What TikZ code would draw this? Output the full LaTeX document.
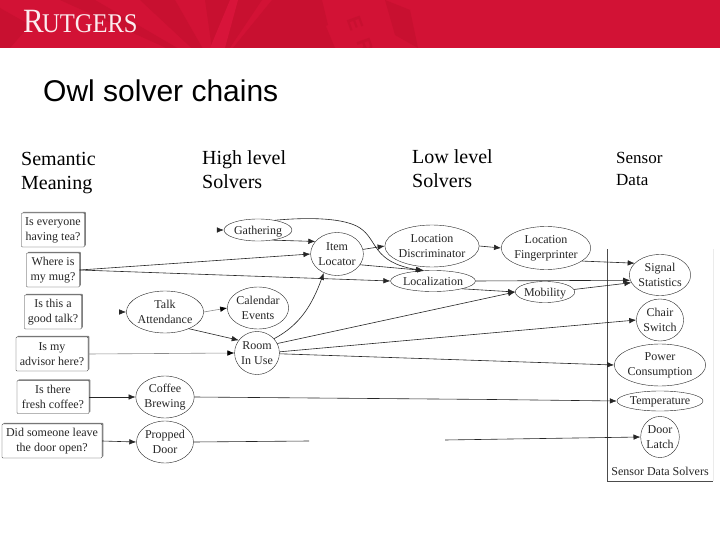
\documentclass[tikz,border=0pt]{standalone}
\usepackage{fontspec}
\setmainfont{Liberation Serif}
\setsansfont{Liberation Sans}
\usetikzlibrary{shapes.geometric,shadows,arrows.meta}

\definecolor{bandred}{HTML}{D21235}
\definecolor{raydark}{HTML}{C81030}
\definecolor{raylight}{HTML}{D8143A}

\tikzset{
	question/.style={draw=black!80,fill=white,rounded corners=0.8pt,align=center,inner sep=0pt,
		font=\fontsize{12}{15}\selectfont,text=black!85,
		general shadow={fill=gray,shadow xshift=1.3pt,shadow yshift=1.2pt}},
	solver/.style={draw=black!85,ellipse,align=center,inner sep=0pt,font=\fontsize{12}{15}\selectfont,text=black!85},
	column/.style={align=left,anchor=north west,inner sep=0pt},
	edge/.style={draw=black!85,-{Latex[length=7pt,width=5.5pt]},line width=0.6pt},
	faint/.style={draw=black!45,-{Latex[length=7pt,width=5.5pt,black]},line width=0.6pt},
	seal/.style={text=raydark,inner sep=0pt,font=\fontsize{20}{20}\sffamily\bfseries}
}

\begin{document}
\begin{tikzpicture}[x=1pt,y=-1pt]
	\useasboundingbox (0,0) rectangle (720,540);
	\fill[white] (0,0) rectangle (720,540);
	% header band
	\fill[bandred] (0,0) rectangle (720,48);
	\begin{scope}
		\clip (0,0) rectangle (720,48);
		\fill[raydark] (215,70) -- (140,0) -- (175,0) -- cycle;
		\fill[raydark] (215,70) -- (205,0) -- (262,0) -- cycle;
		\fill[raydark] (215,70) -- (272,0) -- (322,0) -- (328,25) -- cycle;
		\fill[raydark] (215,70) -- (60,0) -- (95,0) -- cycle;
		\fill[raydark] (215,70) -- (100,48) -- (145,48) -- cycle;
		\fill[raydark] (250,48) -- (325,24) -- (335,48) -- cycle;
		\fill[raydark] (0,8) -- (30,25) -- (10,48) -- (0,48) -- cycle;
		\fill[raydark] (385,0) -- (410,10) -- (418,48) -- (395,35) -- cycle;
		\fill[raylight] (230,0) -- (238,0) -- (225,48) -- (210,48) -- cycle;
		\node[seal,rotate=-70] (sealE) at (355,23) {E};
		\node[seal,rotate=-70] (sealR) at (365,46) {R};
	\end{scope}
	\node[anchor=base west,inner sep=0pt,text=white!92!bandred] (logo) at (23,33)
		{\scalebox{0.91}[1]{\fontsize{34}{34}\selectfont R\kern-2pt\fontsize{27}{27}\selectfont UTGERS}};

	% title and columns
	\node[anchor=base west,inner sep=0pt,font=\fontsize{30}{32}\sffamily] (title) at (43,102) {Owl solver chains};
	\node[column,font=\fontsize{20}{24}\selectfont] (semantic) at (21,152) {Semantic\\Meaning};
	\node[column,font=\fontsize{20}{24}\selectfont] (high) at (202,150) {High level\\Solvers};
	\node[column,font=\fontsize{20}{24}\selectfont] (low) at (412,149) {Low level\\Solvers};
	\node[column,font=\fontsize{17}{22}\selectfont] (sensor) at (616,152) {Sensor\\Data};

	% sensor data frame
	\draw[black!70,line width=0.7pt] (607,249) -- (607,481) -- (713,481);
	\draw[black!8] (713,249) -- (713,481);
	\node[inner sep=0pt,font=\fontsize{12}{14}\selectfont,text=black!85] (sds) at (660,471) {Sensor Data Solvers};

	% questions
	\node[question,minimum width=63pt,minimum height=34pt] (tea) at (53,230) {Is everyone\\having tea?};
	\node[question,minimum width=53pt,minimum height=34pt] (mug) at (53,270) {Where is\\my mug?};
	\node[question,minimum width=57pt,minimum height=34pt] (talk) at (53,312) {Is this a\\good talk?};
	\node[question,minimum width=72pt,minimum height=34pt] (advisor) at (52,354) {Is my\\advisor here?};
	\node[question,minimum width=72pt,minimum height=33pt] (coffee) at (53,397) {Is there\\fresh coffee?};
	\node[question,minimum width=100pt,minimum height=34pt] (door) at (52,441) {Did someone leave\\the door open?};

	% solvers
	\node[solver,text depth=0pt,minimum width=66pt,minimum height=22pt] (gathering) at (258,230) {Gathering};
	\node[solver,minimum width=49pt,minimum height=43pt] (item) at (337,254) {Item\\Locator};
	\node[solver,minimum width=76pt,minimum height=42pt] (attend) at (165,312) {Talk\\Attendance};
	\node[solver,minimum width=61pt,minimum height=42pt] (calendar) at (258,308) {Calendar\\Events};
	\node[solver,minimum width=43pt,minimum height=43pt] (room) at (257,353) {Room\\In Use};
	\node[solver,minimum width=58pt,minimum height=42pt] (brewing) at (165,397) {Coffee\\Brewing};
	\node[solver,minimum width=57pt,minimum height=42pt] (propped) at (165,442) {Propped\\Door};
	\node[solver,minimum width=93pt,minimum height=42pt] (discrim) at (432,246) {Location\\Discriminator};
	\node[solver,minimum width=89pt,minimum height=43pt] (finger) at (546,248) {Location\\Fingerprinter};
	\node[solver,minimum width=82pt,minimum height=21pt] (local) at (433,281) {Localization};
	\node[solver,text depth=0pt,minimum width=56pt,minimum height=21pt] (mobility) at (545,292) {Mobility};
	\node[solver,minimum width=61pt,minimum height=41pt] (signal) at (660,275) {Signal\\Statistics};
	\node[solver,minimum width=46pt,minimum height=42pt] (chair) at (660,320) {Chair\\Switch};
	\node[solver,minimum width=89pt,minimum height=42pt] (power) at (660,365) {Power\\Consumption};
	\node[solver,text depth=0pt,minimum width=86pt,minimum height=20pt] (temp) at (660,401) {Temperature};
	\node[solver,minimum width=38pt,minimum height=41pt] (latch) at (660,437) {Door\\Latch};

	% loose ends
	\coordinate (gatherstub) at (219,230);
	\coordinate (attendstub) at (120,312);
	\coordinate (coffeeend) at (493,399.5);
	\coordinate (doorend) at (309,441);
	\coordinate (doorstart) at (445,440);

	\draw[edge] (gatherstub) -- (gathering);
	\draw[edge] (attendstub) -- (attend);
	\foreach \a/\b in {gathering.-35/item.150,mug.east/item.west,item.10/discrim.west,item.-25/local.130,
		local.east/signal.-170,local.-15/mobility.west,mobility.5/signal.-165,discrim.east/finger.180,
		finger.-20/signal.155,attend.-35/room.145,room.3/chair.west,room.-2/power.west,
		mug.east/local.west,room.25/mobility.west,coffee.east/brewing.west,door.east/propped.west}{
		\draw[edge] (\a) -- (\b);
	}
	\draw[faint] (attend.east) -- (calendar.west);
	\draw[faint] (advisor.east) -- (room.west);
	\draw[edge] (room.40) .. controls (300,325) and (312,305) .. (item.-125);
	\draw[edge] (gathering.30) .. controls (310,217) and (345,218) .. (360,228) .. controls (378,240) and (372,262) .. (local.135);
	\draw[edge,-] (brewing.east) -- (coffeeend);
	\draw[edge] (coffeeend) -- (temp.west);
	\draw[edge,-] (propped.east) -- (doorend);
	\draw[edge] (doorstart) -- (latch.west);
\end{tikzpicture}
\end{document}
